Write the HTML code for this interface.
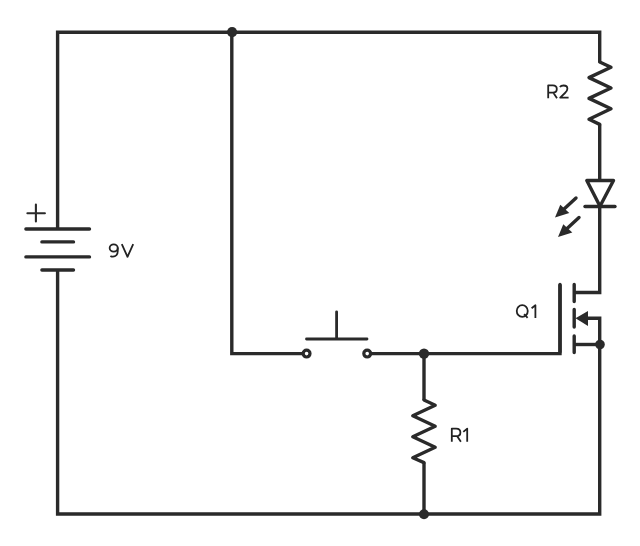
<!DOCTYPE html>
<html><head><meta charset="utf-8">
<style>
html,body{margin:0;padding:0;background:#fff;width:640px;height:546px;overflow:hidden}
svg{display:block}
</style></head><body>
<svg width="640" height="546" viewBox="0 0 640 546">
<g fill="none" stroke="#2a2a2a" stroke-width="3.4" stroke-linejoin="miter" stroke-linecap="butt">
  <path d="M57.6 229 V32.2 H599.7 V62"/>
  <path d="M57.6 270 V514 H599.7 V344.5"/>
  <path d="M231.8 32.2 V353.6 H303"/>
  <path d="M370.5 353.6 H560 V284.5"/>
  <path d="M424 353.6 V400"/>
  <path d="M424 462.6 V514"/>
  <path d="M599.7 124.4 V180.5"/>
  <path d="M599.7 206.5 V292.5 H574.2"/>
  <path d="M574.2 344.5 H599.7"/>
  <path d="M587 318.3 H599.7 V344.5"/>
</g>
<g fill="none" stroke="#2a2a2a" stroke-width="3.4" stroke-linejoin="round" stroke-linecap="round">
  <!-- R2 -->
  <path d="M599.7 62 L611 67.2 L589 77.6 L611 88 L589 98.4 L611 108.8 L589 119.2 L599.7 124.4"/>
  <!-- R1 -->
  <path d="M424 400 L435.2 405.3 L412.8 415.8 L435.2 426.3 L412.8 436.8 L435.2 447.3 L412.8 457.8 L424 462.6"/>
  <!-- battery plates -->
  <path d="M25.9 229 H89.5 M41.9 241.9 H73.5 M25.9 256.9 H89.5 M41.9 270 H73.5"/>
  <!-- switch -->
  <path d="M306.5 339 H367 M336.6 311.8 V339" stroke-width="2.8"/>
  <!-- LED -->
  <path d="M586.8 180.5 H613.5 L600 206.3 Z"/>
  <path d="M585 206.5 H615"/>
  <!-- LED arrow shafts -->
  <path d="M576 198 L563 210 M579 217.5 L566 229.5"/>
  <!-- MOSFET -->
  <path d="M560 284.5 V352"/>
  <path d="M574.2 284.5 V301.5 M574.2 309.5 V327 M574.2 336 V352.5"/>
</g>
<g fill="none" stroke="#2a2a2a" stroke-width="3.2">
  <circle cx="306.6" cy="353.6" r="3.4"/>
  <circle cx="367.2" cy="353.6" r="3.4"/>
</g>
<g fill="#2a2a2a" stroke="none">
  <circle cx="232.1" cy="32.1" r="5.1"/>
  <circle cx="424" cy="353.6" r="5.2"/>
  <circle cx="424" cy="514.2" r="5"/>
  <circle cx="600" cy="344.5" r="4.8"/>
  <polygon points="575.5,318.3 588,311 588,326"/>
  <polygon points="555,217.6 560.3,204.8 569.3,213"/>
  <polygon points="558,237.1 563.3,224.3 572.3,232.5"/>
</g>
<g fill="none" stroke="#2a2a2a" stroke-width="2.1" stroke-linecap="round">
  <path d="M27.4 213.3 H44.9 M35.9 204.6 V221.4"/>
</g>
<!-- labels as strokes -->
<g fill="none" stroke="#222" stroke-width="1.8" stroke-linecap="butt" stroke-linejoin="round">
  <!-- 9 -->
  <ellipse cx="113.7" cy="248" rx="4.05" ry="3.55"/>
  <path d="M117.75 247.5 V251 C117.75 254.6 115.6 256.7 113 256.7 C112 256.7 111.1 256.4 110.4 255.9"/>
  <!-- V -->
  <path d="M121.8 244.1 L127.5 256.8 L133.2 244.1"/>
  <!-- R2 -->
  <path d="M548.2 98.2 V85.3 H552.8 C555.3 85.3 556.8 86.8 556.8 89 C556.8 91.2 555.3 92.6 552.8 92.6 H548.2 M553.2 92.6 L557 98.2"/>
  <path d="M559.9 87.1 C560.7 85.9 562 85.5 563.6 85.5 C566 85.5 567.4 87 567.4 88.8 C567.4 90.5 566.5 91.6 565 93 L560.2 97.6 H568.6"/>
  <!-- Q1 -->
  <ellipse cx="522.25" cy="311" rx="5.5" ry="5.9"/>
  <path d="M524.2 314 L527.6 317.8"/>
  <path d="M531.6 308.2 L535.4 305.3 V318.1"/>
  <!-- R1 -->
  <path d="M451.8 441.8 V428.6 H456.2 C458.8 428.6 460.4 430.2 460.4 432.4 C460.4 434.6 458.8 436.1 456.2 436.1 H451.8 M457 436.1 L460.9 441.8"/>
  <path d="M463.3 431.9 L467.2 428.6 V441.8"/>
</g>
</svg>
</body></html>
